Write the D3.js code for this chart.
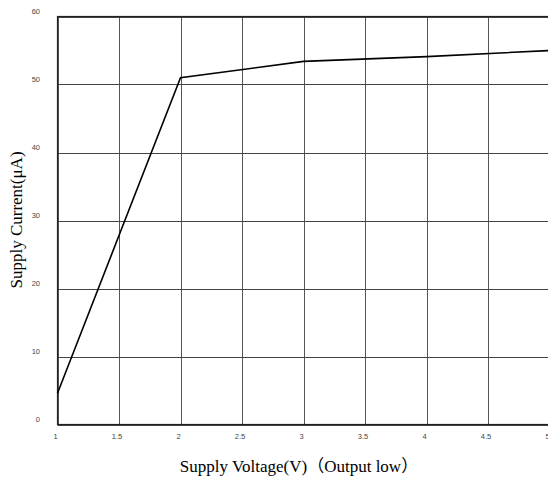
<!DOCTYPE html>
<html><head><meta charset="utf-8">
<script src="https://cdn.jsdelivr.net/npm/d3@7"></script>
<style>body{margin:0;background:#fff}svg{display:block}</style>
</head><body>
<svg id="c" width="548" height="483"></svg>
<script>
const voltage = [1, 2, 3, 4, 5];
const current = [4.6, 51.0, 53.4, 54.1, 55.0];
const xTicks = [1, 1.5, 2, 2.5, 3, 3.5, 4, 4.5, 5];
const yTicks = [0, 10, 20, 30, 40, 50, 60];
const xTitle = "Supply Voltage(V)（Output low）";
const yTitle = "Supply Current(μA)";

const svg = d3.select("#c");
const L = 57.5, R = 549.5, T = 16.5, B = 424.5;
const x = d3.scaleLinear().domain([1, 5]).range([L, R]);
const y = d3.scaleLinear().domain([0, 60]).range([B, T]);

const g = svg.append("g");
g.selectAll(".vg").data(xTicks).join("line")
  .attr("x1", d => Math.round(x(d)) + 0.5).attr("x2", d => Math.round(x(d)) + 0.5)
  .attr("y1", T).attr("y2", B).attr("stroke", "#555").attr("stroke-width", 1);
g.selectAll(".hg").data(yTicks).join("line")
  .attr("y1", d => Math.round(y(d)) + 0.5).attr("y2", d => Math.round(y(d)) + 0.5)
  .attr("x1", L).attr("x2", R).attr("stroke", "#444").attr("stroke-width", 1);
g.append("rect").attr("x", L).attr("y", T).attr("width", R - L).attr("height", B - T)
  .attr("fill", "none").attr("stroke", "#222").attr("stroke-width", 1.2);

svg.selectAll(".yl").data(yTicks).join("text")
  .attr("x", 40).attr("y", d => y(d) - 2.5).attr("text-anchor", "end")
  .attr("font-family", "Arial, Liberation Sans, sans-serif").attr("font-size", 7.5).attr("fill", "#444")
  .text(d => d);
svg.selectAll(".xl").data(xTicks).join("text")
  .attr("x", d => x(d) - 2).attr("y", 439).attr("text-anchor", "middle")
  .attr("font-family", "Arial, Liberation Sans, sans-serif").attr("font-size", 7.5).attr("fill", "#444")
  .text(d => d);

const line = d3.line().x((d, i) => x(voltage[i])).y(d => y(d));
svg.append("path").datum(current).attr("d", line)
  .attr("fill", "none").attr("stroke", "#000").attr("stroke-width", 1.6);

svg.append("text").attr("x", 299).attr("y", 472).attr("text-anchor", "middle")
  .attr("font-family", "'Liberation Serif', 'Noto Sans CJK SC', serif").attr("font-size", 17)
  .text(xTitle);
svg.append("text").attr("transform", "translate(22,220) rotate(-90)").attr("text-anchor", "middle")
  .attr("font-family", "'Liberation Serif', 'Times New Roman', serif").attr("font-size", 17)
  .text(yTitle);
</script>
</body></html>
